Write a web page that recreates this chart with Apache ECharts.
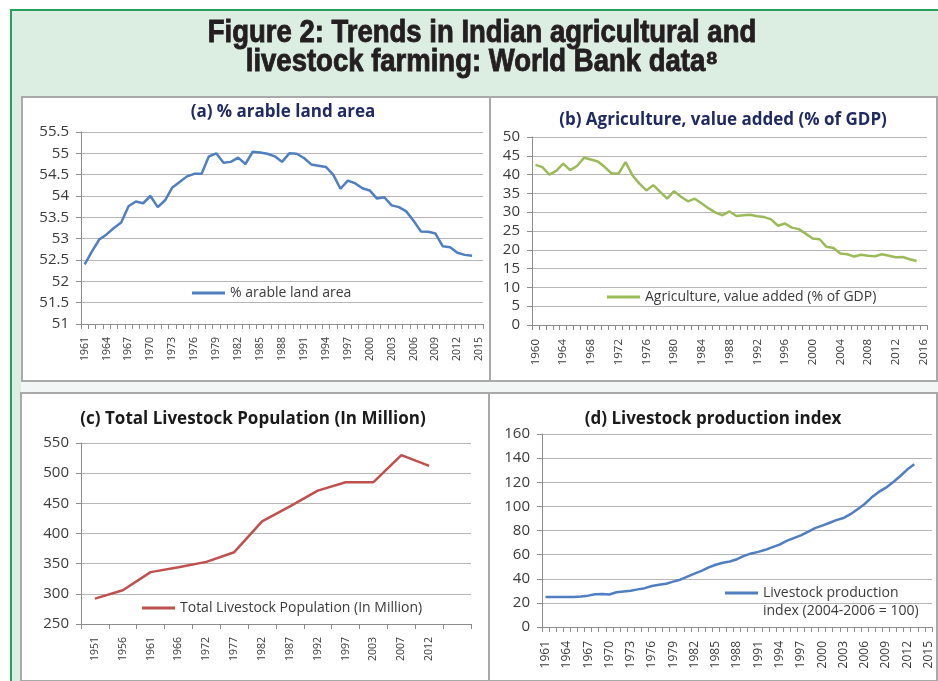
<!DOCTYPE html>
<html>
<head>
<meta charset="utf-8">
<script src="https://cdn.jsdelivr.net/npm/echarts@6/dist/echarts.min.js"></script>
<style>
  html, body { margin: 0; padding: 0; background: #ffffff; }
  #c { width: 938px; height: 681px; }
</style>
</head>
<body>
<div id="c"></div>
<script>
// ---------- DATA ----------
const mainTitleLine1 = 'Figure 2: Trends in Indian agricultural and';
const mainTitleLine2 = 'livestock farming: World Bank data\u2078';

const titleA = '(a) % arable land area';
const titleB = '(b) Agriculture, value added (% of GDP)';
const titleC = '(c) Total Livestock Population (In Million)';
const titleD = '(d) Livestock production index';

const yearsA = ['1961','1962','1963','1964','1965','1966','1967','1968','1969','1970','1971','1972','1973','1974','1975','1976','1977','1978','1979','1980','1981','1982','1983','1984','1985','1986','1987','1988','1989','1990','1991','1992','1993','1994','1995','1996','1997','1998','1999','2000','2001','2002','2003','2004','2005','2006','2007','2008','2009','2010','2011','2012','2013','2014','2015'];
const arableLand = [52.4,52.7,52.98,53.1,53.25,53.38,53.76,53.87,53.83,54.0,53.74,53.9,54.2,54.33,54.46,54.52,54.52,54.93,55.0,54.78,54.8,54.9,54.75,55.04,55.02,54.99,54.93,54.8,55.0,54.99,54.89,54.74,54.71,54.68,54.5,54.17,54.36,54.3,54.18,54.13,53.94,53.97,53.78,53.74,53.64,53.42,53.17,53.16,53.12,52.82,52.8,52.67,52.62,52.6];

const yearsB = ['1960','1961','1962','1963','1964','1965','1966','1967','1968','1969','1970','1971','1972','1973','1974','1975','1976','1977','1978','1979','1980','1981','1982','1983','1984','1985','1986','1987','1988','1989','1990','1991','1992','1993','1994','1995','1996','1997','1998','1999','2000','2001','2002','2003','2004','2005','2006','2007','2008','2009','2010','2011','2012','2013','2014','2015','2016'];
const agriValueAdded = [42.6,42,40,41,42.9,41.2,42.3,44.5,44,43.5,42,40.3,40.3,43.3,39.8,37.6,35.8,37.2,35.4,33.6,35.6,34.1,32.9,33.6,32.3,31,29.9,29.2,30.2,29,29.2,29.3,28.9,28.7,28.1,26.4,27,25.9,25.5,24.3,23,22.8,20.8,20.5,19,18.8,18.2,18.7,18.4,18.3,18.8,18.4,18,18.1,17.5,17.0];

const censusYears = ['1951','1956','1961','1966','1972','1977','1982','1987','1992','1997','2003','2007','2012',''];
const livestockPopulation = [292,306,336,344,353,369,420,445,471,485,485,530,512];

const yearsD = yearsA;
const productionIndex = [24.8,24.8,24.8,24.9,24.8,25.2,26,27.2,27.3,27,28.8,29.4,30,31.2,32.2,34,35,35.9,37.6,39.2,41.8,44.2,46.6,49.4,51.6,53.3,54.3,56.2,59,61,62.3,64,66.2,68.3,71.4,73.7,75.9,78.8,82,84,86.2,88.6,90.3,93.5,97.7,102,107.5,112,115.5,120,125,130.5,135];

const nameA = '% arable land area';
const nameB = 'Agriculture, value added (% of GDP)';
const nameC = 'Total Livestock Population (In Million)';
const nameD = 'Livestock production index (2004-2006 = 100)';
const legendD1 = 'Livestock production';
const legendD2 = 'index (2004-2006 = 100)';

// ---------- STYLE ----------
const FONT = '"Open Sans", Lato, sans-serif';
const TICKFONT = '"Open Sans", Lato, sans-serif';
const TITLEFONT = '"Liberation Sans", Arial, sans-serif';
const LABEL = '#3a3a3a';
const AXIS = '#8c8c8c';
const GRIDC = '#b5b5b5';

function xAxisCfg(gridIndex, data, interval, size, margin) {
  return {
    type: 'category', gridIndex, data, boundaryGap: true,
    axisLine: { show: true, lineStyle: { color: AXIS, width: 1 } },
    axisTick: { show: true, interval: 0, length: 5, lineStyle: { color: AXIS } },
    axisLabel: { interval, rotate: 90, margin, color: LABEL, fontFamily: TICKFONT, fontSize: size },
    splitLine: { show: false }
  };
}
function yAxisCfg(gridIndex, min, max, interval) {
  return {
    type: 'value', gridIndex, min, max, interval,
    axisLine: { show: true, lineStyle: { color: AXIS, width: 1 } },
    axisTick: { show: true, length: 5, lineStyle: { color: AXIS } },
    axisLabel: { margin: 12, color: LABEL, fontFamily: FONT, fontSize: 15 },
    splitLine: { show: true, lineStyle: { color: GRIDC, width: 1 } }
  };
}
function legendCfg(name, left, top, formatter) {
  const l = {
    data: [name], left, top, padding: 0, orient: 'horizontal', selectedMode: false,
    icon: 'rect', itemWidth: 33, itemHeight: 3,
    textStyle: { color: LABEL, fontFamily: FONT, fontSize: 14, lineHeight: 16 }
  };
  if (formatter) l.formatter = formatter;
  return l;
}
function panelTitle(text, x, y, color) {
  return { type: 'text', z: 100, style: { text, x, y, textAlign: 'center', textVerticalAlign: 'middle', fill: color, font: 'bold 17px ' + FONT } };
}
function panelRect(x, y, w, h) {
  return { type: 'rect', z: -50, shape: { x, y, width: w, height: h }, style: { fill: '#ffffff', stroke: '#a9a9a9', lineWidth: 2 } };
}
function mainLine(text, y) {
  return { type: 'text', z: 100, x: 482, y, scaleX: 0.887, scaleY: 1,
    style: { text, x: 0, y: 0, textAlign: 'center', textVerticalAlign: 'middle', fill: '#231f20', stroke: '#231f20', lineWidth: 0.9, font: 'bold 31px ' + TITLEFONT } };
}

const chart = echarts.init(document.getElementById('c'));
chart.setOption({
  animation: false,
  backgroundColor: '#ffffff',
  graphic: [
    { type: 'rect', z: -100, shape: { x: 11, y: 10, width: 940, height: 690 }, style: { fill: '#dcede1', stroke: '#27a05a', lineWidth: 2 } },
    { type: 'rect', z: -90, shape: { x: 21, y: 96, width: 917, height: 585 }, style: { fill: '#f2f6f5' } },
    panelRect(22, 97, 468, 284),
    panelRect(490, 97, 447, 284),
    panelRect(21, 393, 468, 288),
    panelRect(489, 393, 448, 288),
    mainLine(mainTitleLine1, 33),
    mainLine(mainTitleLine2, 62),
    panelTitle(titleA, 283, 112, '#1f2a60'),
    panelTitle(titleB, 723, 120, '#1f2a60'),
    panelTitle(titleC, 253, 419, '#1a1a1a'),
    panelTitle(titleD, 713, 419, '#1a1a1a'),
    { type: 'text', z: 100, style: { text: legendD2, x: 763, y: 611, textAlign: 'left', textVerticalAlign: 'middle', fill: LABEL, font: '14px ' + FONT } }
  ],
  grid: [
    { left: 81, top: 132, width: 402, height: 192 },
    { left: 532, top: 137, width: 395, height: 188 },
    { left: 81, top: 443, width: 390, height: 181 },
    { left: 542, top: 434, width: 390, height: 193 }
  ],
  xAxis: [
    xAxisCfg(0, yearsA, 2, 10.5, 13),
    xAxisCfg(1, yearsB, 3, 11.5, 14),
    xAxisCfg(2, censusYears, 0, 10.5, 13),
    xAxisCfg(3, yearsD, 2, 12, 14)
  ],
  yAxis: [
    yAxisCfg(0, 51, 55.5, 0.5),
    yAxisCfg(1, 0, 50, 5),
    yAxisCfg(2, 250, 550, 50),
    yAxisCfg(3, 0, 160, 20)
  ],
  legend: [
    legendCfg(nameA, 192, 285),
    legendCfg(nameB, 607, 289),
    legendCfg(nameC, 142, 600),
    legendCfg(nameD, 725, 585, function () { return legendD1; })
  ],
  series: [
    { name: nameA, type: 'line', xAxisIndex: 0, yAxisIndex: 0, data: arableLand, symbol: 'none', lineStyle: { color: '#4f7fc0', width: 2.5 }, itemStyle: { color: '#4f7fc0' } },
    { name: nameB, type: 'line', xAxisIndex: 1, yAxisIndex: 1, data: agriValueAdded, symbol: 'none', lineStyle: { color: '#9bbb59', width: 2.5 }, itemStyle: { color: '#9bbb59' } },
    { name: nameC, type: 'line', xAxisIndex: 2, yAxisIndex: 2, data: livestockPopulation, symbol: 'none', lineStyle: { color: '#c0504d', width: 2.5 }, itemStyle: { color: '#c0504d' } },
    { name: nameD, type: 'line', xAxisIndex: 3, yAxisIndex: 3, data: productionIndex, symbol: 'none', lineStyle: { color: '#4f7fc0', width: 2.5 }, itemStyle: { color: '#4f7fc0' } }
  ]
});
</script>
</body>
</html>
